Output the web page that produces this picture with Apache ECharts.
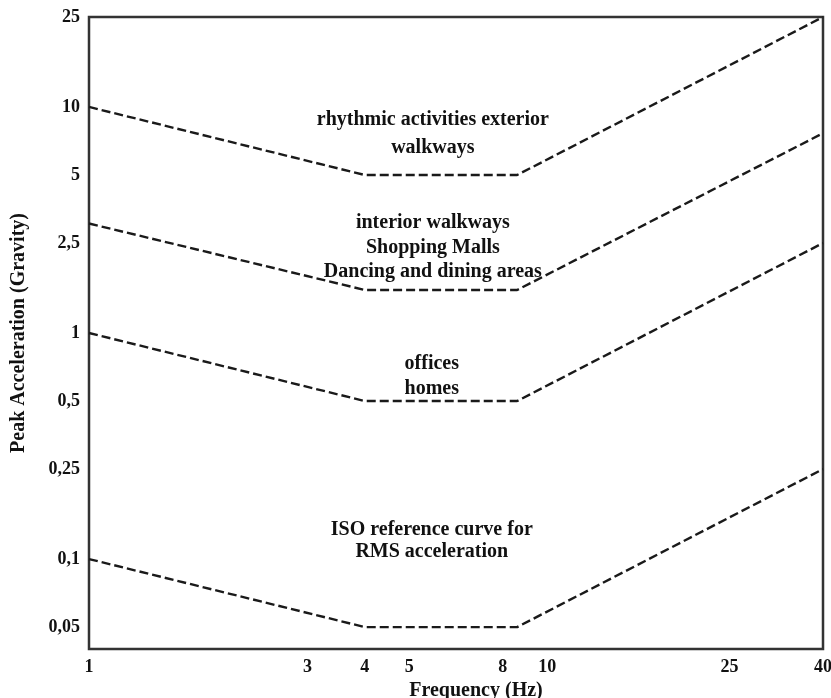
<!DOCTYPE html>
<html>
<head>
<meta charset="utf-8">
<script src="https://cdn.jsdelivr.net/npm/echarts@6/dist/echarts.min.js"></script>
<style>
html,body{margin:0;padding:0;background:#fff;}
#chart{width:831px;height:698px;}
</style>
</head>
<body>
<div id="chart"></div>
<script>
// ---- data ----
const freq = [1, 4, 8.6, 40];
const rhythmic = [10, 5, 5, 25];
const interior = [3.05, 1.55, 1.55, 7.65];
const offices = [1, 0.5, 0.5, 2.5];
const isoRef = [0.1, 0.05, 0.05, 0.25];

const xTicks = [1, 3, 4, 5, 8, 10, 25, 40];
const xTickLabels = ['1', '3', '4', '5', '8', '10', '25', '40'];
const yTicks = [0.05, 0.1, 0.25, 0.5, 1, 2.5, 5, 10, 25];
const yTickLabels = ['0,05', '0,1', '0,25', '0,5', '1', '2,5', '5', '10', '25'];

const xRange = [1, 40];
const yRange = [0.04, 25];

const annotTexts = [
  'rhythmic activities exterior\nwalkways',
  'interior walkways\nShopping Malls\nDancing and dining areas',
  'offices\nhomes',
  'ISO reference curve for\nRMS acceleration'
];
const annotFreq = [5.63, 5.63, 5.6, 5.6];
const annotAcc = [7.59, 2.39, 0.642, 0.121];
const annotLineHeight = [28, 24.5, 25, 22];

// ---- helpers ----
const L = Math.log10;
function lookup(ticks, labels, v) {
  for (let i = 0; i < ticks.length; i++) {
    if (Math.abs(L(ticks[i]) - v) < 1e-6) return labels[i];
  }
  return '';
}
function curve(values) {
  return freq.map((f, i) => [L(f), L(values[i])]);
}

const FONT = '"Liberation Serif", "Times New Roman", serif';
const lineStyle = { color: '#1a1a1a', width: 2.4, type: [9, 4] };

function lineSeries(name, values) {
  return {
    name: name,
    type: 'line',
    data: curve(values),
    symbol: 'none',
    lineStyle: lineStyle,
    clip: false,
    silent: true,
    z: 2
  };
}

const chart = echarts.init(document.getElementById('chart'), null, { renderer: 'canvas' });
chart.setOption({
  animation: false,
  backgroundColor: '#fff',
  grid: {
    left: 89, right: 8, top: 17, bottom: 49,
    show: true, borderColor: '#333', borderWidth: 2.5,
    containLabel: false,
    outerBoundsMode: 'none'
  },
  xAxis: {
    type: 'value',
    min: L(xRange[0]), max: L(xRange[1]),
    name: 'Frequency (Hz)',
    nameLocation: 'middle',
    nameGap: 28,
    nameTextStyle: {
      fontFamily: FONT, fontWeight: 'bold', fontSize: 20, color: '#111',
      padding: [0, 0, 0, 40]
    },
    axisLine: { show: false },
    axisTick: { show: false },
    splitLine: { show: false },
    axisLabel: {
      customValues: xTicks.map(L),
      formatter: v => lookup(xTicks, xTickLabels, v),
      fontFamily: FONT, fontWeight: 'bold', fontSize: 18, color: '#111',
      margin: 9
    }
  },
  yAxis: {
    type: 'value',
    min: L(yRange[0]), max: L(yRange[1]),
    name: 'Peak Acceleration (Gravity)',
    nameLocation: 'middle',
    nameGap: 60,
    nameTextStyle: { fontFamily: FONT, fontWeight: 'bold', fontSize: 20, color: '#111' },
    axisLine: { show: false },
    axisTick: { show: false },
    splitLine: { show: false },
    axisLabel: {
      customValues: yTicks.map(L),
      formatter: v => lookup(yTicks, yTickLabels, v),
      fontFamily: FONT, fontWeight: 'bold', fontSize: 18, color: '#111',
      margin: 9
    }
  },
  series: [
    lineSeries('rhythmic', rhythmic),
    lineSeries('interior', interior),
    lineSeries('offices', offices),
    lineSeries('iso', isoRef),
    {
      type: 'scatter',
      symbolSize: 0,
      silent: true,
      z: 5,
      itemStyle: { opacity: 1 },
      data: annotTexts.map((t, i) => ({
        value: [L(annotFreq[i]), L(annotAcc[i])],
        name: t,
        label: { lineHeight: annotLineHeight[i] }
      })),
      label: {
        show: true,
        position: 'inside',
        formatter: p => p.name,
        fontFamily: FONT, fontWeight: 'bold', fontSize: 20, color: '#111',
        align: 'center', verticalAlign: 'middle'
      }
    }
  ]
});
</script>
</body>
</html>
